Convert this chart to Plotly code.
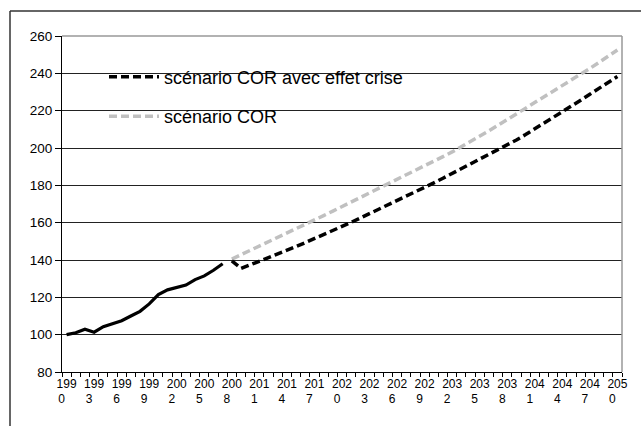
import plotly.graph_objects as go

# ---- data ----
years_hist = [1990, 1991, 1992, 1993, 1994, 1995, 1996, 1997, 1998, 1999,
              2000, 2001, 2002, 2003, 2004, 2005, 2006, 2007]
values_hist = [100.0, 101.0, 102.9, 101.3, 104.3, 106.0, 107.5, 110.0, 112.5, 116.5,
               121.5, 124.0, 125.5, 126.6, 129.5, 131.5, 134.5, 138.0]

years_proj = list(range(2008, 2051))
values_cor_crise = [139.5, 135.5, 137.4, 139.3, 141.2, 143.2, 145.2, 147.2, 149.3, 151.4,
                    153.5, 155.7, 157.9, 160.2, 162.5, 164.8, 167.1, 169.4, 171.7, 174.0,
                    176.4, 178.8, 181.3, 183.8, 186.3, 188.8, 191.3, 193.8, 196.3, 198.8,
                    201.5, 204.3, 207.2, 210.2, 213.2, 216.3, 219.4, 222.5, 225.6, 228.8,
                    232.0, 235.2, 238.3]
values_cor = [140.5, 142.8, 145.0, 147.3, 149.5, 151.8, 154.2, 156.6, 159.0, 161.4,
              163.8, 166.2, 168.6, 171.0, 173.3, 175.7, 178.1, 180.5, 183.0, 185.4,
              187.9, 190.4, 193.0, 195.4, 197.9, 200.6, 203.4, 206.3, 209.2, 212.2,
              215.2, 218.3, 221.3, 224.3, 227.3, 230.3, 233.3, 236.3, 239.4, 242.6,
              245.9, 249.2, 252.5]

label_years = list(range(1990, 2051, 3))
tick_labels = [f"{str(y)[:3]}<br>{str(y)[3]}\u00a0\u00a0\u00a0" for y in label_years]

name_crise = "scénario COR avec effet crise"
name_cor = "scénario COR"

FONT = "Arial, 'Liberation Sans', sans-serif"

W, H = 641, 426
L, R, T, B = 62, 19, 36, 54
PW, PH = W - L - R, H - T - B


def px_x(px):
    return (px - L) / PW


def px_y(py):
    return (H - B - py) / PH


fig = go.Figure()

fig.add_trace(go.Scatter(
    x=years_hist, y=values_hist, mode="lines",
    line=dict(color="black", width=3.2), showlegend=False, hoverinfo="skip"))

fig.add_trace(go.Scatter(
    x=years_proj, y=values_cor, mode="lines", name=name_cor,
    line=dict(color="#c0c0c0", width=3.5, dash="8px,4px"), legend="legend2"))

fig.add_trace(go.Scatter(
    x=years_proj, y=values_cor_crise, mode="lines", name=name_crise,
    line=dict(color="black", width=3.5, dash="8px,4px"), legend="legend"))

shapes = [
    # white legend background hiding gridlines
    dict(type="rect", xref="paper", yref="paper", x0=0, x1=px_x(452),
         y0=px_y(140), y1=px_y(45), fillcolor="white", line=dict(width=0),
         layer="between"),
    # plot area top / right border (gray)
    dict(type="line", xref="paper", yref="paper", x0=0, x1=1, y0=1, y1=1,
         line=dict(color="#999999", width=1.5), layer="above"),
    dict(type="line", xref="paper", yref="paper", x0=1, x1=1, y0=0, y1=1,
         line=dict(color="#999999", width=1.5), layer="above"),
    # outer chart frame
    dict(type="line", xref="paper", yref="paper", x0=px_x(10), x1=px_x(W + 5),
         y0=px_y(11), y1=px_y(11), line=dict(color="#333333", width=1.5), layer="above"),
    dict(type="line", xref="paper", yref="paper", x0=px_x(10), x1=px_x(10),
         y0=px_y(11), y1=px_y(H + 5), line=dict(color="#333333", width=1.5), layer="above"),
]

fig.update_layout(
    width=W, height=H,
    margin=dict(l=L, r=R, t=T, b=B, pad=0),
    paper_bgcolor="white", plot_bgcolor="white",
    font=dict(family=FONT, color="black", size=12),
    shapes=shapes,
    legend=dict(x=px_x(104), y=px_y(77), xanchor="left", yanchor="middle",
                itemwidth=50,
                bgcolor="rgba(0,0,0,0)", font=dict(size=18, family=FONT)),
    legend2=dict(x=px_x(104), y=px_y(116.5), xanchor="left", yanchor="middle",
                 itemwidth=50,
                 bgcolor="rgba(0,0,0,0)", font=dict(size=18, family=FONT)),
    xaxis=dict(
        range=[1989.5, 2050.5], showgrid=False, zeroline=False,
        showline=True, linecolor="black", linewidth=1.2,
        tickmode="array", tickvals=label_years, ticktext=tick_labels,
        ticks="", tickfont=dict(size=12, family=FONT),
        minor=dict(tick0=1989.5, dtick=1, ticks="outside", ticklen=4,
                   tickcolor="black", tickwidth=1, showgrid=False),
    ),
    yaxis=dict(
        range=[80, 260], dtick=20, tick0=80, showgrid=True,
        gridcolor="#222222", gridwidth=1, zeroline=False,
        showline=True, linecolor="black", linewidth=1.2,
        ticks="outside", ticklen=6, tickcolor="black",
        tickfont=dict(size=13.5, family=FONT),
    ),
    hovermode=False,
)

fig.write_html("out.html", config={"displayModeBar": False},
               post_script="document.body.style.margin='0';")
